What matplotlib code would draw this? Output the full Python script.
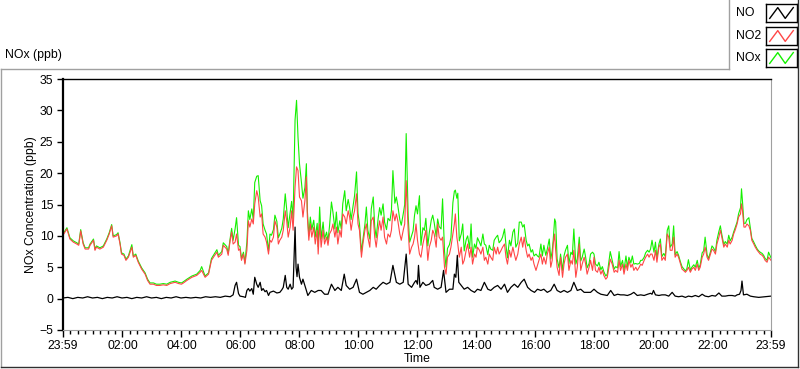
import numpy as np
from matplotlib import pyplot as plt
from matplotlib.lines import Line2D

# minutes after 23:59 of the previous day
NO2_T = [0, 4, 8, 14, 21, 28, 32, 36, 41, 45, 52, 55, 62, 65, 68, 75, 82, 89, 94, 99,
         102, 109, 112, 116, 119, 124, 128, 133, 140, 143, 148, 153, 160, 167, 172, 177,
         184, 190, 197, 204, 211, 218, 228, 235,
         241, 245, 252, 262, 272, 279, 282, 289, 296, 302, 306, 313, 316, 323, 326, 333,
         336, 340, 343, 346, 350, 353, 357, 360, 363, 367, 370, 374, 377, 380, 384, 387,
         390, 394, 397, 401, 404, 407, 411, 414, 418, 421, 424, 428, 431, 435, 438, 441,
         445, 448, 452, 455, 458, 462, 465, 468, 472, 475,
         478, 481, 485, 488, 492, 495, 497, 500, 503, 506, 510, 513, 517, 519, 522, 525,
         529, 532, 536, 539, 542, 546, 549, 553, 556, 559, 563, 566, 569, 573, 576, 580,
         583, 586, 590, 593, 597, 600, 603, 607, 610, 614, 617, 620, 624, 627, 631, 634,
         637, 641, 644, 647, 651, 654, 658, 661, 665, 668, 671, 675, 678, 681, 685, 688,
         692, 695, 698, 702, 705, 709, 712, 715,
         718, 721, 725, 728, 732, 735, 738, 742, 745, 749, 752, 755, 759, 762, 765, 769,
         772, 776, 779, 782, 786, 789, 793, 796, 798, 801, 803, 806, 810, 813, 816, 820,
         823, 827, 830, 833, 837, 840, 843, 847, 850, 854, 857, 860, 864, 867, 870, 874,
         877, 881, 884, 887, 891, 894, 898, 901, 904, 908, 911, 915, 918, 921, 925, 928,
         932, 935, 938, 942, 945, 948, 952, 955,
         958, 962, 965, 968, 972, 975, 978, 982, 985, 989, 992, 995, 997, 1000, 1002, 1005,
         1009, 1012, 1016, 1019, 1022, 1026, 1029, 1033, 1036, 1039, 1043, 1046, 1050,
         1053, 1056, 1060, 1063, 1066, 1070, 1073, 1077, 1080, 1083, 1087, 1090, 1094,
         1097, 1100, 1104, 1107, 1113, 1117, 1121, 1124, 1128, 1131, 1134, 1138, 1141,
         1145, 1148, 1151, 1155, 1158, 1161, 1165, 1168, 1172, 1175, 1178, 1182, 1185,
         1189, 1192, 1195,
         1198, 1202, 1205, 1208, 1212, 1215, 1218, 1222, 1225, 1229, 1232, 1235, 1239,
         1242, 1245, 1249, 1252, 1256, 1259, 1262, 1266, 1269, 1272, 1276, 1279, 1283,
         1286, 1290, 1293, 1296, 1300, 1303, 1306, 1310, 1313, 1317, 1320, 1323, 1327,
         1330, 1334, 1337, 1340, 1344, 1347, 1351, 1354, 1357, 1361, 1364, 1367, 1371,
         1374, 1378, 1380, 1382, 1385, 1388, 1391, 1395, 1398, 1401, 1405, 1408, 1412,
         1415, 1418, 1422, 1425, 1428, 1432, 1435, 1440]

NO2 = [10.1, 10.6, 11.1, 9.5, 9.0, 8.7, 8.5, 10.8, 8.7, 7.9, 7.9, 8.5, 9.3, 7.7, 8.2, 7.9,
       8.2, 9.3, 10.3, 11.6, 9.8, 10.0, 10.3, 8.7, 7.1, 6.9, 6.1, 6.6, 8.2, 6.6, 6.9, 5.8,
       4.7, 3.9, 2.9, 2.3, 2.3, 2.1, 2.1, 2.2, 2.1, 2.4, 2.6, 2.4,
       2.3, 2.5, 2.9, 3.4, 3.7, 4.2, 4.5, 3.4, 3.9, 6.1, 6.6, 7.4, 6.6, 7.1, 8.5, 7.9,
       6.9, 9.3, 10.6, 8.7, 9.0, 10.3, 7.7, 7.9, 6.1, 7.1, 5.5, 7.7, 12.4, 11.4, 12.7,
       11.9, 15.1, 17.2, 16.2, 13.0, 13.5, 10.3, 9.8, 9.0, 7.1, 9.3, 9.0, 9.8, 12.4, 11.4,
       8.7, 9.3, 9.8, 10.9, 14.0, 12.4, 9.8, 11.4, 14.0, 10.9, 17.8, 21.0,
       20.4, 16.2, 15.6, 13.0, 15.6, 19.4, 13.0, 9.3, 11.9, 9.8, 11.4, 8.7, 10.9, 7.1,
       11.9, 8.2, 10.9, 8.7, 9.8, 8.5, 10.3, 10.9, 11.9, 9.8, 11.4, 8.7, 10.9, 9.8, 13.5,
       13.0, 11.9, 14.0, 13.0, 10.9, 13.0, 14.0, 16.7, 11.9, 10.9, 6.6, 8.7, 10.9, 11.9,
       9.8, 8.2, 12.4, 13.0, 9.8, 8.2, 10.9, 12.4, 10.9, 13.0, 9.8, 8.7, 10.3, 9.8, 10.9,
       14.0, 12.4, 13.5, 12.4, 10.3, 9.3, 10.9, 11.9, 18.8, 10.9, 7.1, 8.2, 8.7, 9.8,
       11.9, 9.3, 7.1, 6.6, 8.7, 9.8, 10.9, 6.1, 8.2, 9.3, 10.9, 10.3, 8.2, 11.9, 9.8,
       9.3, 9.8, 5.0, 3.9, 6.6, 7.1, 8.2, 10.3, 11.9, 13.5, 9.8, 8.7, 6.6, 8.2, 5.5, 6.1,
       7.7, 8.7, 6.6, 8.2, 5.5, 7.1, 6.6, 8.2, 7.7, 7.1, 8.2, 6.1, 6.6, 5.5, 7.1, 6.6,
       6.1, 8.2, 7.1, 8.2, 7.1, 7.7, 8.2, 8.7, 6.6, 5.5, 7.7, 6.6, 8.2, 7.1, 6.1, 7.1,
       8.7, 9.8, 8.2, 9.8, 7.7, 6.6, 7.1, 6.1, 6.6,
       5.5, 4.5, 5.3, 6.1, 7.1, 5.5, 6.6, 5.5, 7.1, 8.2, 5.0, 6.1, 8.7, 10.3, 7.7, 5.0,
       3.7, 6.6, 3.4, 5.5, 6.6, 7.1, 4.5, 6.1, 5.5, 7.7, 3.4, 5.0, 8.7, 4.5, 5.5, 6.6,
       5.5, 3.9, 5.0, 6.1, 4.5, 6.6, 4.5, 4.2, 5.0, 3.9, 4.5, 3.7, 3.1, 3.4, 6.3, 5.5,
       4.2, 4.5, 4.2, 6.1, 4.5, 5.5, 3.9, 5.5, 4.5, 6.1, 5.0, 5.5, 4.5, 5.0, 4.5, 5.0,
       5.5, 5.3, 6.1, 6.6, 7.1, 6.6, 7.1,
       7.1, 6.1, 7.7, 5.8, 8.2, 8.7, 6.1, 6.6, 6.1, 10.3, 9.8, 7.7, 7.7, 9.8, 6.6, 7.1,
       6.6, 5.5, 4.7, 4.5, 4.2, 4.5, 5.0, 4.2, 4.7, 5.0, 4.5, 5.5, 4.5, 5.0, 6.6, 7.1,
       8.2, 6.6, 6.1, 7.1, 7.9, 7.7, 7.1, 8.7, 9.8, 10.9, 9.8, 8.2, 8.7, 8.2, 9.3, 8.7,
       9.3, 10.3, 10.9, 11.9, 13.0, 13.5, 15.1, 14.0, 11.4, 11.4, 11.9, 11.6, 10.9, 9.3,
       8.7, 8.2, 7.7, 7.4, 7.1, 6.9, 6.6, 6.1, 5.8, 6.6, 6.1]

NOX = [10.3, 10.8, 11.3, 9.7, 9.2, 8.9, 8.7, 11.0, 8.9, 8.1, 8.1, 8.7, 9.5, 7.9, 8.4, 8.1,
       8.4, 9.5, 10.5, 11.8, 10.0, 10.2, 10.5, 8.9, 7.3, 7.1, 6.3, 6.8, 8.6, 6.8, 7.1, 6.0,
       4.9, 4.1, 3.1, 2.5, 2.5, 2.3, 2.3, 2.4, 2.3, 2.6, 2.8, 2.6,
       2.5, 2.7, 3.1, 3.6, 3.9, 4.5, 5.1, 3.6, 4.1, 6.4, 6.9, 7.8, 6.9, 7.5, 8.9, 8.3,
       7.2, 9.6, 11.2, 9.3, 11.1, 12.9, 8.5, 8.3, 6.4, 7.4, 5.7, 9.0, 14.0, 12.6, 14.3,
       12.6, 18.5, 19.5, 19.6, 15.6, 14.8, 11.9, 10.9, 10.3, 7.6, 10.3, 10.1, 11.0, 13.3,
       12.3, 9.7, 10.3, 11.2, 12.7, 16.7, 14.2, 11.3, 13.7, 15.5, 12.7, 28.5, 31.6,
       25.7, 21.5, 18.5, 16.0, 17.7, 21.5, 14.0, 10.0, 13.0, 11.0, 12.5, 9.8, 12.0, 8.3,
       14.6, 9.5, 12.2, 9.5, 10.6, 9.2, 11.5, 15.4, 13.8, 11.1, 13.8, 10.5, 12.4, 11.1,
       15.1, 17.2, 14.0, 15.8, 14.5, 12.6, 14.8, 16.4, 20.2, 13.6, 11.9, 7.4, 9.4, 11.8,
       14.6, 10.9, 9.5, 14.3, 16.2, 11.5, 9.7, 12.8, 14.5, 13.3, 15.1, 12.2, 11.0, 12.8,
       12.4, 14.0, 20.4, 15.2, 16.2, 14.8, 12.6, 11.7, 13.5, 15.0, 26.3, 13.2, 9.0, 10.0,
       10.8, 13.3,
       14.8, 13.5, 16.4, 8.5, 11.3, 10.9, 12.8, 8.4, 10.5, 12.5, 13.3, 12.1, 9.9, 12.7,
       11.5, 11.1, 15.9, 7.5, 5.0, 8.0, 8.6, 9.7, 15.3, 17.1, 17.3, 16.0, 16.8, 9.2,
       10.3, 11.9, 7.6, 9.4, 10.0, 8.0, 11.9, 6.6, 8.7, 8.0, 9.7, 9.0, 8.4, 10.3, 8.7,
       8.5, 7.0, 8.5, 7.9, 7.7, 9.3, 9.8, 10.1, 8.9, 9.3, 9.8, 11.1, 8.5, 6.5, 9.3, 8.4,
       10.6, 11.1, 8.2, 8.9, 12.2, 12.2, 11.4, 11.8, 9.3, 8.4, 8.7, 7.4, 7.8,
       6.8, 7.1, 6.8, 6.6, 8.7, 6.8, 8.5, 6.9, 7.9, 9.5, 6.3, 7.6, 9.3, 12.7, 12.2, 6.3,
       4.9, 7.1, 4.5, 6.8, 7.7, 8.5, 5.6, 7.4, 7.0, 11.1, 5.5, 6.3, 9.8, 6.0, 6.6, 7.9,
       6.6, 4.9, 5.6, 7.1, 7.4, 7.1, 5.5, 5.2, 5.8, 4.6, 5.1, 4.3, 3.6, 3.9, 7.5, 6.1,
       4.7, 5.1, 4.9, 7.5, 5.1, 6.1, 4.5, 6.8, 5.0, 6.6, 5.7, 6.8, 5.5, 5.6, 5.5, 5.6,
       6.1, 6.1, 6.6, 7.3, 7.7, 7.4, 7.9,
       9.3, 7.4, 9.0, 6.4, 8.7, 9.5, 6.7, 7.2, 6.7, 10.9, 11.6, 8.2, 8.7, 11.6, 7.0, 7.5,
       6.9, 5.8, 5.1, 4.8, 4.4, 4.8, 6.2, 4.5, 5.0, 5.4, 5.0, 6.1, 4.8, 5.4, 7.3, 7.6,
       9.8, 7.0, 6.4, 7.5, 8.4, 8.1, 7.5, 9.3, 10.7, 11.6, 10.2, 8.6, 9.1, 8.7, 10.1, 9.2,
       9.8, 10.6, 11.3, 12.2, 13.5, 14.5, 17.5, 15.5, 12.0, 12.0, 12.6, 12.9, 11.3, 9.6,
       9.0, 8.5, 7.9, 7.6, 7.4, 7.2, 6.9, 6.4, 6.1, 7.4, 6.5]

NO_T = [0, 10, 20, 30, 40, 50, 60, 70, 80, 90, 100, 110, 120, 130, 140, 150, 160, 170,
        180, 190, 200, 210, 220, 230, 240, 250, 260, 270, 280, 290, 300, 310, 320, 330,
        340, 346, 350, 353, 357, 360, 367, 371, 374, 377, 380, 384, 387, 390, 394, 397,
        401, 404, 407, 411, 414, 418, 421, 428, 435, 441, 445, 448, 452, 455, 458, 462,
        465, 468, 472, 474, 476, 478, 481, 485, 488, 492, 495, 498, 505, 512, 519, 525,
        532, 539, 546, 553, 559, 566, 572, 576, 583, 590, 597, 603, 610, 617, 624, 631,
        637, 644, 651, 658, 665, 671, 678, 685, 692, 698, 702, 709, 715, 718, 721, 723,
        726, 732, 738, 745, 752, 755, 762, 769, 774, 779, 786, 793, 796, 799, 802, 805,
        810, 816, 823, 830, 837, 843, 850, 857, 864, 870, 877, 884, 891, 898, 904, 911,
        918, 925, 932, 938, 945, 952, 959, 965, 972, 978, 985, 992, 999, 1005, 1012,
        1019, 1026, 1033, 1039, 1046, 1053, 1060, 1066, 1073, 1080, 1087, 1094, 1100,
        1107, 1114, 1121, 1128, 1134, 1141, 1148, 1155, 1161, 1168, 1175, 1182, 1189,
        1195, 1198, 1201, 1205, 1212, 1218, 1225, 1232, 1239, 1245, 1252, 1259, 1266,
        1272, 1279, 1286, 1293, 1300, 1306, 1313, 1320, 1327, 1334, 1340, 1347, 1354,
        1361, 1367, 1371, 1376, 1379, 1381, 1384, 1391, 1398, 1405, 1415, 1428, 1440]

NO = [0.1, 0.2, 0.0, 0.2, 0.1, 0.3, 0.1, 0.2, 0.0, 0.2, 0.1, 0.3, 0.1, 0.2, 0.0, 0.2,
      0.1, 0.3, 0.1, 0.2, 0.0, 0.2, 0.1, 0.3, 0.1, 0.2, 0.1, 0.2, 0.1, 0.3, 0.2, 0.3,
      0.2, 0.4, 0.3, 0.6, 2.1, 2.6, 0.8, 0.4, 0.3, 0.2, 1.3, 1.6, 1.2, 1.6, 0.7, 3.4,
      2.3, 1.8, 2.6, 1.3, 1.6, 1.1, 1.3, 0.5, 1.0, 1.2, 0.9, 1.0, 1.4, 1.8, 3.7, 1.8,
      1.5, 2.3, 1.5, 1.8, 11.4, 5.0, 3.5, 5.5, 3.4, 2.3, 3.1, 2.1, 1.3, 0.5, 1.3, 1.0,
      1.3, 1.3, 0.7, 0.7, 2.3, 1.3, 1.8, 1.3, 3.9, 2.1, 1.5, 1.8, 3.1, 1.0, 0.7, 1.0,
      1.3, 1.8, 1.5, 2.1, 2.6, 2.3, 2.6, 5.3, 2.6, 2.3, 2.6, 7.1, 2.3, 1.8, 2.6, 2.9,
      2.3, 5.3, 1.8, 2.6, 2.1, 2.3, 2.9, 1.8, 1.5, 1.8, 4.5, 1.0, 1.5, 1.5, 3.9, 3.4,
      6.9, 2.6, 2.1, 1.5, 1.8, 1.3, 1.0, 1.5, 1.3, 2.6, 1.5, 1.3, 1.8, 2.1, 1.5, 2.3,
      1.0, 1.8, 2.3, 1.8, 2.6, 3.1, 1.8, 1.3, 1.0, 1.5, 1.3, 1.5, 1.0, 1.3, 2.3, 1.3,
      1.0, 1.3, 1.0, 1.3, 2.6, 1.3, 1.5, 1.0, 1.0, 1.0, 1.5, 1.0, 0.7, 0.6, 0.5, 1.3,
      0.5, 0.7, 0.6, 0.6, 0.5, 0.7, 1.0, 0.5, 0.6, 0.5, 0.7, 0.85, 0.7, 1.3, 0.6, 0.5,
      0.6, 0.6, 0.4, 1.0, 0.4, 0.3, 0.4, 0.2, 0.4, 0.3, 0.5, 0.3, 0.7, 0.4, 0.3, 0.5,
      0.4, 0.9, 0.4, 0.4, 0.5, 0.5, 0.4, 0.6, 0.7, 1.3, 2.8, 0.6, 0.7, 0.4, 0.3, 0.2,
      0.3, 0.4]

X_TICKS = [0, 121, 241, 361, 481, 601, 721, 841, 961, 1081, 1201, 1321, 1440]
X_LABELS = ["23:59", "02:00", "04:00", "06:00", "08:00", "10:00", "12:00",
            "14:00", "16:00", "18:00", "20:00", "22:00", "23:59"]

C_NO = "black"
C_NO2 = "#ff4646"
C_NOX = "#14f000"

W, H = 800, 369
plt.rcParams['font.family'] = ['Liberation Sans', 'DejaVu Sans']
plt.rcParams['font.size'] = 8.8


def fx(x):
    return x / W


def fy(y):
    return 1 - y / H


fig = plt.figure(figsize=(W / 100, H / 100), dpi=100)

# panel frame (LabVIEW style)
frame = [((1, 69), (729, 69), '#a0a0a0'), ((729, 69), (729, 0), '#a0a0a0'),
         ((1, 69), (1, 367), '#a0a0a0'), ((1, 367), (798, 367), '#303030'),
         ((798, 0), (798, 367), '#303030')]
for (x0, y0), (x1, y1), c in frame:
    fig.add_artist(Line2D([fx(x0), fx(x1)], [fy(y0), fy(y1)], color=c, lw=1.0))

fig.text(fx(5), fy(58), "NOx (ppb)", ha='left', va='baseline')

ax = fig.add_axes([fx(63), fy(330), fx(771) - fx(63), fy(79) - fy(330)])
ax.plot(NO2_T, NOX, color=C_NOX, lw=0.8)
ax.plot(NO2_T, NO2, color=C_NO2, lw=0.8)
ax.plot(NO_T, NO, color=C_NO, lw=0.9)

ax.set_xlim(0, 1440)
ax.set_ylim(-5, 35)
ax.set_yticks(np.arange(-5, 36, 5))
ax.set_xticks(X_TICKS)
ax.set_xticklabels(X_LABELS)
minor = []
for a, b in zip(X_TICKS[:-1], X_TICKS[1:]):
    minor += list(np.linspace(a, b, 9)[1:-1])
ax.set_xticks(minor, minor=True)
ax.tick_params(axis='x', which='major', length=5, width=1, pad=2, direction='out')
ax.tick_params(axis='x', which='minor', length=3, width=1, direction='out')
ax.tick_params(axis='y', length=4, width=1, pad=3, direction='out')

ax.spines['left'].set_linewidth(1.6)
ax.spines['left'].set_color('black')
ax.spines['top'].set_linewidth(1.0)
ax.spines['top'].set_color('black')
ax.spines['right'].set_color('#a0a0a0')
ax.spines['bottom'].set_color('#a0a0a0')
ax.set_ylabel("NOx Concentration (ppb)", labelpad=2)
ax.set_xlabel("Time", labelpad=1)

# legend: name + swatch box
legend = [("NO", C_NO, 13), ("NO2", C_NO2, 36), ("NOx", C_NOX, 58)]
for name, c, yc in legend:
    fig.text(fx(736), fy(yc), name, ha='left', va='center')
    sw = fig.add_axes([fx(766), fy(yc + 9), fx(797) - fx(766), fy(yc - 9) - fy(yc + 9)])
    sw.plot([0.12, 0.38, 0.62, 0.88], [0.2, 0.8, 0.2, 0.8], color=c, lw=1.0)
    sw.set_xlim(0, 1)
    sw.set_ylim(0, 1)
    sw.set_xticks([])
    sw.set_yticks([])
    for s in sw.spines.values():
        s.set_color('black')
        s.set_linewidth(1.0)

fig.savefig("out.png", dpi=100)
